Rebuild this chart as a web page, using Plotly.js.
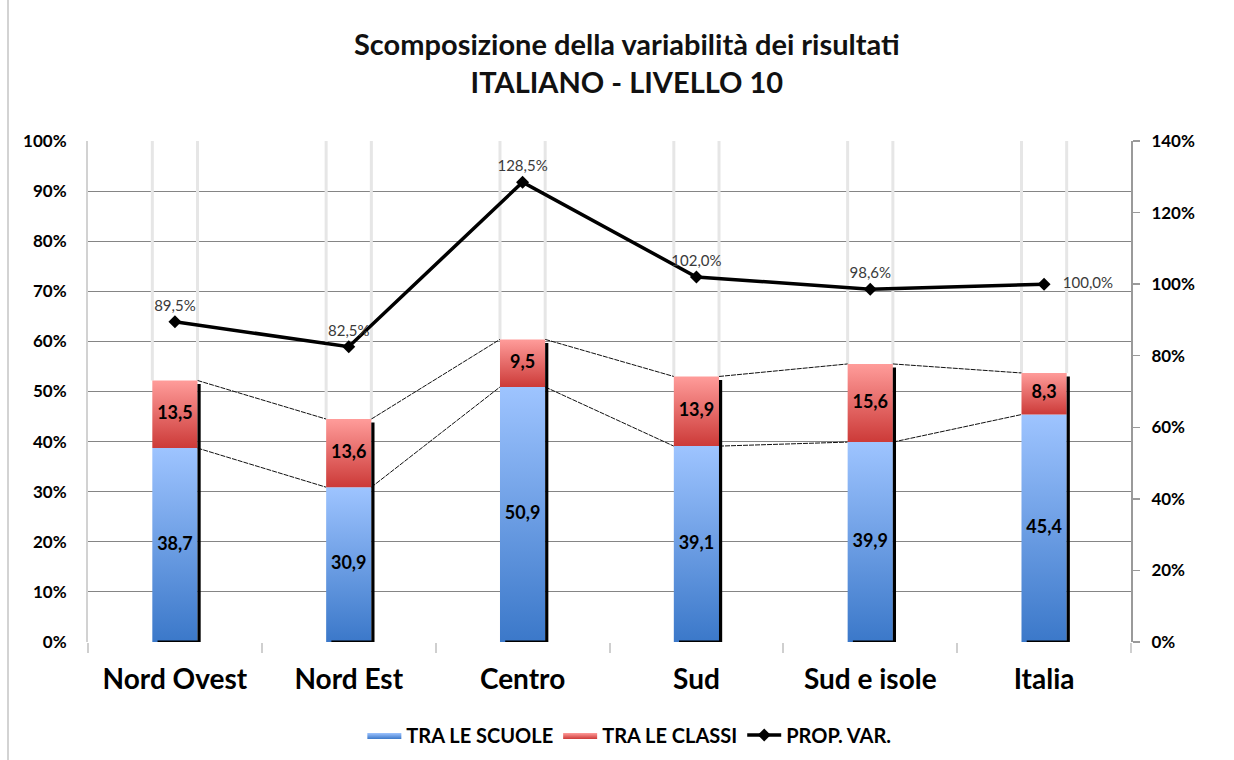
<!DOCTYPE html>
<html>
<head>
<meta charset="utf-8">
<script src="https://cdn.plot.ly/plotly-3.0.1.min.js"></script>
<style>html,body{margin:0;padding:0;background:#fff;}#chart{width:1234px;height:760px;}</style>
</head>
<body>
<div id="chart"></div>
<script>
// ---- data ----
const categories = ['Nord Ovest', 'Nord Est', 'Centro', 'Sud', 'Sud e isole', 'Italia'];
const traScuole = [38.7, 30.9, 50.9, 39.1, 39.9, 45.4];
const traClassi = [13.5, 13.6, 9.5, 13.9, 15.6, 8.3];
const propVar = [89.5, 82.5, 128.5, 102.0, 98.6, 100.0];
const seriesNames = ['TRA LE SCUOLE', 'TRA LE CLASSI', 'PROP. VAR.'];
const leftTicks = [0, 10, 20, 30, 40, 50, 60, 70, 80, 90, 100];
const rightTicks = [0, 20, 40, 60, 80, 100, 120, 140];

// ---- styling ----
const FONT = 'Lato, "Open Sans", sans-serif';
const W = 0.26; // bar width in category units
const blueScale = [[0, '#3B78C9'], [1, '#9EC4FF']];
const redScale = [[0, '#CC3A38'], [1, '#FF9C9A']];
const fmt = v => v.toFixed(1).replace('.', ',');

const idx = categories.map((c, i) => i);
const totals = idx.map(i => traScuole[i] + traClassi[i]);
const traces = [];

// light vertical lines at bar edges above bars
{
  const xs = [], ys = [];
  idx.forEach(i => {
    [i - W / 2, i + W / 2].forEach(x => { xs.push(x, x, null); ys.push(totals[i], 100, null); });
  });
  traces.push({x: xs, y: ys, type: 'scatter', mode: 'lines', line: {color: '#E6E6E6', width: 3},
    showlegend: false, hoverinfo: 'skip'});
}

// series lines between stacked bars
[traScuole, totals].forEach(arr => {
  const xs = [], ys = [];
  for (let i = 0; i < idx.length - 1; i++) {
    xs.push(i + W / 2, i + 1 - W / 2, null);
    ys.push(arr[i], arr[i + 1], null);
  }
  traces.push({x: xs, y: ys, type: 'scatter', mode: 'lines',
    line: {color: '#111', width: 1, dash: '5px,1px'}, showlegend: false, hoverinfo: 'skip'});
});

// bar segments with gradient
function segment(i, base, val, scale, name, first) {
  return {
    x: [i - W / 2, i + W / 2, i + W / 2, i - W / 2, i - W / 2],
    y: [base, base, base + val, base + val, base],
    type: 'scatter', mode: 'lines', fill: 'toself',
    line: {width: 0, color: scale[0][1]},
    fillgradient: {type: 'vertical', colorscale: scale},
    name: name, legendgroup: name, showlegend: first, hoverinfo: 'skip'
  };
}
idx.forEach(i => traces.push(segment(i, 0, traScuole[i], blueScale, seriesNames[0], i === 0)));
idx.forEach(i => traces.push(segment(i, traScuole[i], traClassi[i], redScale, seriesNames[1], i === 0)));

// bar shadows (right edge)
{
  const xs = [], ys = [];
  idx.forEach(i => {
    xs.push(i - W / 2 + 0.03, i + W / 2 + 0.009, i + W / 2 + 0.009, null);
    ys.push(0, 0, totals[i] - 0.7, null);
  });
  traces.push({x: xs, y: ys, type: 'scatter', mode: 'lines', line: {color: '#000', width: 3.2},
    showlegend: false, hoverinfo: 'skip'});
}

// bar labels
const barLabelFont = {family: FONT, size: 18, color: '#000', weight: 'bold'};
traces.push({x: idx, y: idx.map(i => traScuole[i] / 2), text: traScuole.map(fmt),
  type: 'scatter', mode: 'text', textfont: barLabelFont, showlegend: false, hoverinfo: 'skip'});
traces.push({x: idx, y: idx.map(i => traScuole[i] + traClassi[i] / 2), text: traClassi.map(fmt),
  type: 'scatter', mode: 'text', textfont: barLabelFont, showlegend: false, hoverinfo: 'skip'});

// line on secondary axis
traces.push({x: idx, y: propVar, yaxis: 'y2', type: 'scatter', mode: 'lines+markers+text',
  name: seriesNames[2],
  line: {color: '#000', width: 3.5},
  marker: {symbol: 'diamond', size: 10, color: '#000'},
  text: propVar.map((v, i) => (i === idx.length - 1 ? '   ' : '') + fmt(v) + '%'),
  textposition: idx.map(i => i === idx.length - 1 ? 'middle right' : 'top center'),
  textfont: {family: FONT, size: 15, color: '#3A3A3A'},
  cliponaxis: false, hoverinfo: 'skip'});

const layout = {
  width: 1234, height: 760,
  margin: {l: 88, r: 103, t: 141, b: 118},
  paper_bgcolor: '#fff', plot_bgcolor: '#fff',
  font: {family: FONT, color: '#000'},
  title: {
    text: 'Scomposizione della variabilità dei risultati<br>ITALIANO - LIVELLO 10',
    font: {family: FONT, size: 29, color: '#111', weight: 'bold'},
    x: 0.508, xref: 'container', xanchor: 'center',
    y: 1 - 55 / 760, yref: 'container', yanchor: 'top'
  },
  xaxis: {
    range: [-0.5, 5.5], tickmode: 'array', tickvals: idx, ticktext: categories,
    tickfont: {family: FONT, size: 28, color: '#000', weight: 'bold'},
    showgrid: false, zeroline: false, showline: false, ticks: '',
    ticklabelstandoff: 18,
    minor: {tickmode: 'array', tickvals: [-0.5, 0.5, 1.5, 2.5, 3.5, 4.5, 5.5], ticks: 'outside',
      ticklen: 10, tickwidth: 2, tickcolor: '#CFCFCF', showgrid: false}
  },
  yaxis: {
    range: [0, 100], tickmode: 'array', tickvals: leftTicks, ticktext: leftTicks.map(v => v + '%'),
    tickfont: {family: FONT, size: 17, color: '#000', weight: 'bold'},
    showgrid: false, zeroline: false, showline: true, linecolor: '#D2D2D2', linewidth: 2,
    ticks: '', ticklabelstandoff: 16,
    minor: {tickmode: 'array', tickvals: leftTicks.slice(1, -1), showgrid: true,
      gridcolor: '#858585', gridwidth: 1, ticks: ''}
  },
  yaxis2: {
    overlaying: 'y', side: 'right', range: [0, 140], tickmode: 'array', tickvals: rightTicks,
    ticktext: rightTicks.map(v => v + '%'),
    tickfont: {family: FONT, size: 17, color: '#000', weight: 'bold'},
    showgrid: false, zeroline: false, showline: true, linecolor: '#9A9A9A', linewidth: 2,
    ticks: 'outside', ticklen: 7, tickwidth: 1.5, tickcolor: '#9A9A9A', ticklabelstandoff: 8
  },
  legend: {
    orientation: 'h', x: 0.51, xref: 'container', xanchor: 'center',
    y: 25 / 760, yref: 'container', yanchor: 'middle',
    font: {family: FONT, size: 20, color: '#000', weight: 'bold'},
    itemwidth: 34, tracegroupgap: 0
  },
  shapes: [{type: 'line', xref: 'paper', yref: 'paper', x0: -80 / 1043, x1: -80 / 1043,
    y0: -118 / 501, y1: 1 + 141 / 501, line: {color: '#C4C4C4', width: 1.5}}],
  showlegend: true
};

Plotly.newPlot('chart', traces, layout, {displayModeBar: false, staticPlot: true});
</script>
</body>
</html>
